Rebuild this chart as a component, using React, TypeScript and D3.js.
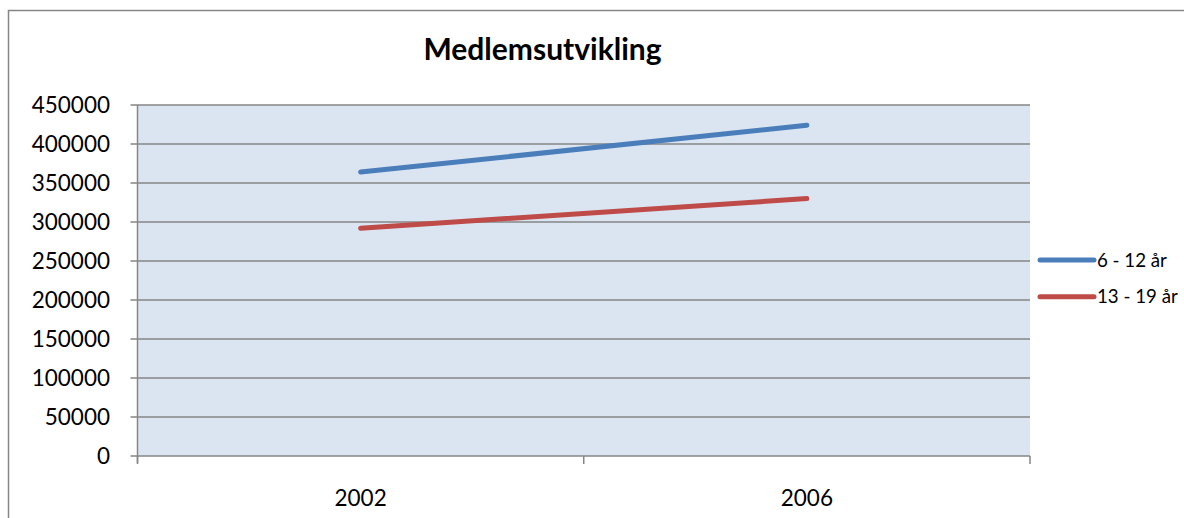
import React from "react";
import * as d3 from "d3";

const categories = ["2002", "2006"];
const seriesNames = ["6 - 12 år", "13 - 19 år"];
const seriesBlue = [364000, 424000];
const seriesRed = [292000, 330000];
const seriesColors = ["#4A7EBB", "#BE4B48"];
const yTicks = [0, 50000, 100000, 150000, 200000, 250000, 300000, 350000, 400000, 450000];
const title = "Medlemsutvikling";

const W = 1184;
const H = 518;
const plot = { left: 137.5, right: 1030, top: 105, bottom: 456 };
const FONT = "Lato, 'Open Sans', sans-serif";

export default function App() {
  const x = d3.scaleBand<string>().domain(categories).range([plot.left, plot.right]);
  const y = d3.scaleLinear().domain([0, 450000]).range([plot.bottom, plot.top]);
  const line = d3
    .line<number>()
    .x((_, i) => (x(categories[i]) as number) + x.bandwidth() / 2)
    .y((d) => y(d));
  const series = [seriesBlue, seriesRed];
  const xTickPositions = [plot.left, plot.left + x.bandwidth(), plot.right];

  return (
    <svg
      width={W}
      height={H}
      style={{ position: "absolute", left: 0, top: 0, display: "block" }}
      fontFamily={FONT}
    >
      <rect x={0} y={0} width={W} height={H} fill="#fff" />
      <rect x={8.5} y={10.5} width={W + 20} height={H + 20} fill="none" stroke="#868686" strokeWidth={1.5} />
      <text x={542.5} y={59.5} textAnchor="middle" fontSize={30} fontWeight={700} fill="#000">
        {title}
      </text>
      <rect
        x={plot.left}
        y={plot.top}
        width={plot.right - plot.left}
        height={plot.bottom - plot.top}
        fill="#DBE5F1"
      />
      {yTicks.map((t) => (
        <g key={t}>
          <line x1={plot.left - 7} x2={plot.right} y1={y(t)} y2={y(t)} stroke="#868686" strokeWidth={1.5} />
          <text x={110} y={y(t)} dy="0.36em" textAnchor="end" fontSize={22.5} fill="#000">
            {t}
          </text>
        </g>
      ))}
      <line x1={plot.left} x2={plot.left} y1={plot.top} y2={plot.bottom + 7} stroke="#868686" strokeWidth={1.5} />
      {xTickPositions.map((p, i) => (
        <line key={i} x1={p} x2={p} y1={plot.bottom} y2={plot.bottom + 8} stroke="#868686" strokeWidth={1.5} />
      ))}
      {categories.map((c) => (
        <text
          key={c}
          x={(x(c) as number) + x.bandwidth() / 2}
          y={506}
          textAnchor="middle"
          fontSize={22.5}
          fill="#000"
        >
          {c}
        </text>
      ))}
      {series.map((s, i) => (
        <path
          key={i}
          d={line(s) as string}
          fill="none"
          stroke={seriesColors[i]}
          strokeWidth={5}
          strokeLinecap="round"
        />
      ))}
      {seriesNames.map((n, i) => {
        const ly = 260 + i * 36.7;
        return (
          <g key={n}>
            <line x1={1040} x2={1094} y1={ly} y2={ly} stroke={seriesColors[i]} strokeWidth={5} strokeLinecap="round" />
            <text x={1097} y={ly} dy="0.36em" fontSize={18.7} fill="#000">
              {n}
            </text>
          </g>
        );
      })}
    </svg>
  );
}
